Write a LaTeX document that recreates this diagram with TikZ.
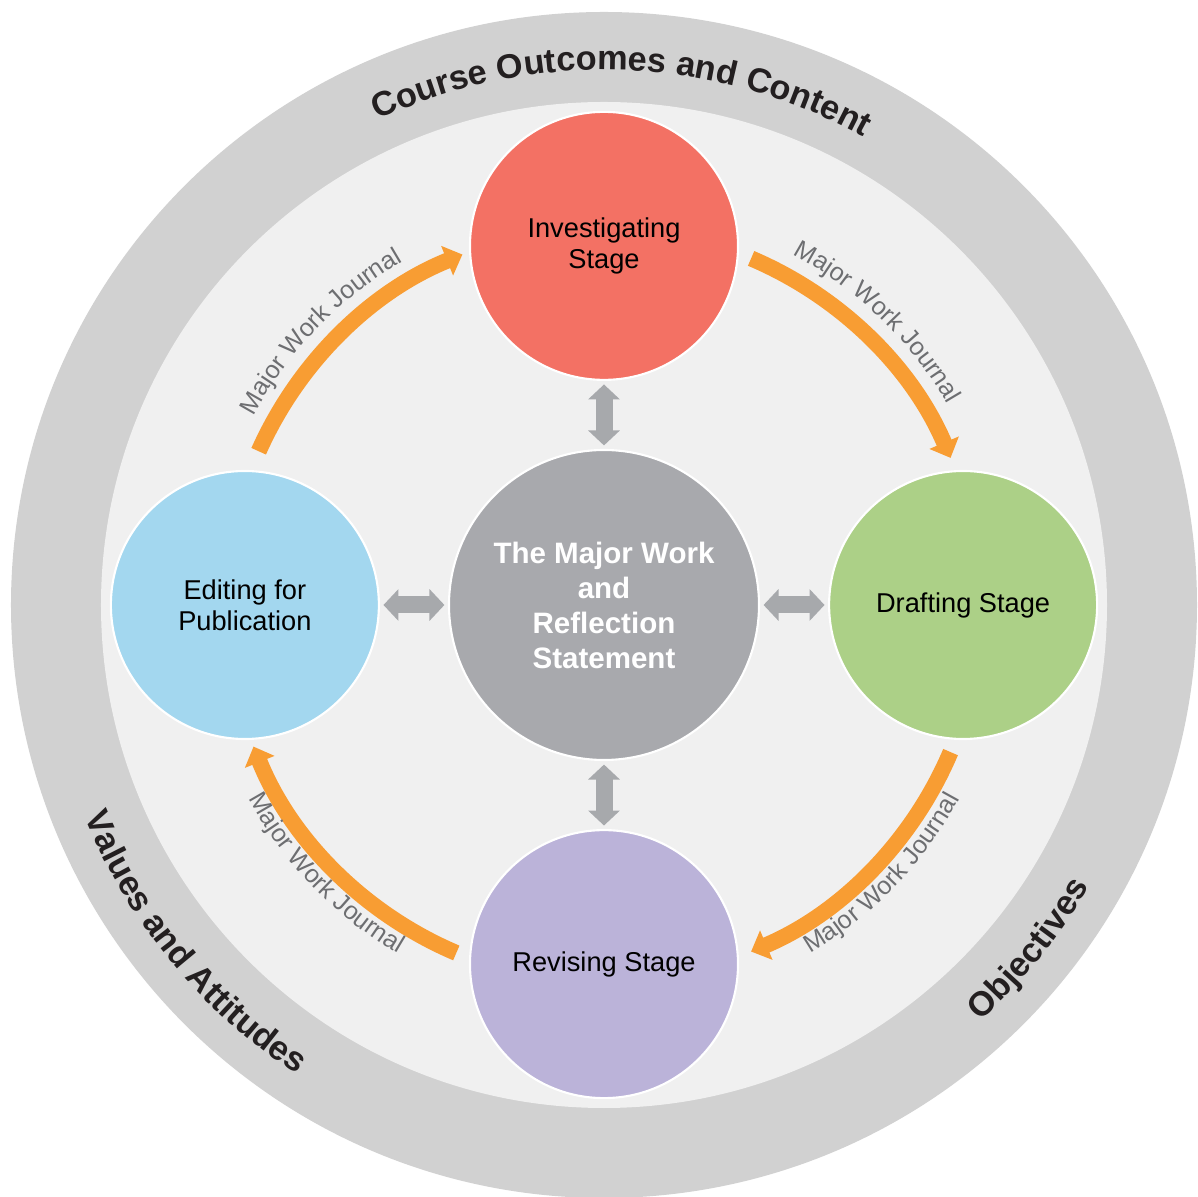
\documentclass[tikz,border=0pt]{standalone}
\usepackage{fontspec}
\setmainfont{Liberation Sans}
\usetikzlibrary{
    arrows.meta,
    positioning,
    decorations.text%
}
\definecolor{ringGray}{HTML}{D1D1D1}
\definecolor{innerGray}{HTML}{F0F0F0}
\definecolor{invRed}{HTML}{F37164}
\definecolor{draftGreen}{HTML}{ACD087}
\definecolor{editBlue}{HTML}{A3D7EF}
\definecolor{reviseLilac}{HTML}{BBB3D9}
\definecolor{hubGray}{HTML}{A8A9AD}
\definecolor{linkGray}{HTML}{A7A9AC}
\definecolor{journalOrange}{HTML}{F89D33}
\definecolor{journalText}{HTML}{6D6E71}
\definecolor{ringText}{HTML}{231F20}
\newcommand{\stageFont}{\fontsize{15.5}{17.6}\selectfont}
\newcommand{\hubFont}{\fontsize{16.8}{19.9}\selectfont\bfseries}
\newcommand{\journalFont}{\fontsize{14.3}{16}\selectfont}
\newcommand{\ringFont}{\fontsize{19.5}{22}\selectfont\bfseries}
\tikzset{
    % Stages and the hub
    stage/.style={
        circle,
        draw=white,
        line width=1.2pt,
        minimum size=5.36cm,
        inner sep=0pt,
        align=center,
        font=\stageFont
    },
    hub/.style={
        stage,
        fill=hubGray,
        minimum size=6.2cm,
        text=white,
        font=\hubFont
    },
    % Connectors
    link/.style={
        {Triangle[width=0.62cm, length=0.3cm]}-{Triangle[width=0.62cm, length=0.3cm]},
        draw=linkGray,
        line width=0.34cm,
        shorten <=2pt,
        shorten >=2pt
    },
    journal/.style={
        -{Triangle[width=0.62cm, length=0.33cm]},
        draw=journalOrange,
        line width=0.32cm
    },
    % Texts along arcs
    journalLabel/.style={
        decorate,
        decoration={text along path, text align=center,
            text={|\journalFont\color{journalText}|Major Work Journal}}
    },
    ringLabel/.style={
        decorate,
        decoration={text along path, text align=center,
            text={|\ringFont\color{ringText}|#1}}
    }
}
\begin{document}
\begin{tikzpicture}

    \useasboundingbox (-12.08,-11.84) rectangle (11.88,12.10);

    % Rings
    \fill[ringGray] (0,0) circle[radius=11.86cm];
    \fill[innerGray] (0,0) circle[radius=10.06cm];

    \path[ringLabel=Course Outcomes and Content] (128:10.7) arc[start angle=128, end angle=48, radius=10.7cm];
    \path[ringLabel=Objectives] (-79:11.22) arc[start angle=-79, end angle=1, radius=11.22cm];
    \path[ringLabel=Values and Attitudes] (179.5:11.22) arc[start angle=179.5, end angle=259.5, radius=11.22cm];

    % Hub and stages
    \node[hub] (mw) at (0,0) {The Major Work\\and\\Reflection\\Statement};
    \node[stage, fill=invRed, above=1.36cm of mw] (inv) {Investigating\\Stage};
    \node[stage, fill=draftGreen, right=1.36cm of mw] (draft) {Drafting Stage};
    \node[stage, fill=reviseLilac, below=1.36cm of mw] (revise) {Revising Stage};
    \node[stage, fill=editBlue, left=1.36cm of mw] (edit) {Editing for\\Publication};

    \draw[link] (inv) -- (mw);
    \draw[link] (draft) -- (mw);
    \draw[link] (revise) -- (mw);
    \draw[link] (edit) -- (mw);

    % Journal cycle
    \coordinate (invOut) at (67:7.53);
    \coordinate (draftOut) at (-23:7.53);
    \coordinate (reviseOut) at (247:7.56);
    \coordinate (editOut) at (156:7.56);

    \draw[journal] (invOut) arc[start angle=67, end angle=23, radius=7.53cm];
    \draw[journal] (draftOut) arc[start angle=-23, end angle=-67, radius=7.53cm];
    \draw[journal] (reviseOut) arc[start angle=247, end angle=202, radius=7.56cm];
    \draw[journal] (editOut) arc[start angle=156, end angle=112, radius=7.56cm];

    \path[journalLabel] (76:7.96) arc[start angle=76, end angle=16, radius=7.96cm];
    \path[journalLabel] (-74:8.1) arc[start angle=-74, end angle=-14, radius=8.1cm];
    \path[journalLabel] (194:8.1) arc[start angle=194, end angle=254, radius=8.1cm];
    \path[journalLabel] (166:7.96) arc[start angle=166, end angle=106, radius=7.96cm];

\end{tikzpicture}
\end{document}
